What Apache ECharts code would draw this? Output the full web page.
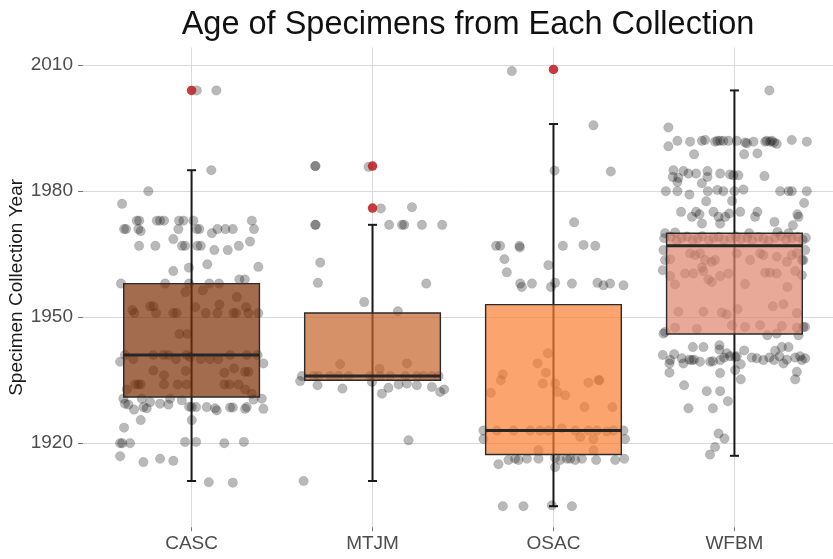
<!DOCTYPE html>
<html><head><meta charset="utf-8">
<script src="https://cdn.jsdelivr.net/npm/echarts@6/dist/echarts.min.js"></script>
<style>html,body{margin:0;padding:0;background:#fff}#chart{width:833px;height:559px}</style>
</head><body><div id="chart"></div>
<script>
// ---------------- data ----------------
const categories = ['CASC', 'MTJM', 'OSAC', 'WFBM'];
const yTicks = [1920, 1950, 1980, 2010];
// [lower whisker, Q1, median, Q3, upper whisker]
const boxCASC = [1911, 1931, 1941, 1958, 1985];
const boxMTJM = [1911, 1935, 1936, 1951, 1972];
const boxOSAC = [1905, 1917.3, 1923, 1953, 1996];
const boxWFBM = [1917, 1946, 1967, 1970, 2004];
const outCASC = [2004];
const outMTJM = [1986, 1976];
const outOSAC = [2009];
const outWFBM = [];
// jittered observations: [horizontal jitter (category units), year]
const cascPoints = [
[0.029,2004],[0.137,2004],[0.109,1985],[-0.239,1980],[-0.384,1977],
[-0.303,1973],[-0.289,1973],[-0.192,1973],[-0.174,1973],[-0.152,1973],[-0.069,1973],[-0.045,1973],[0.010,1973],[0.333,1973],
[-0.373,1971],[-0.362,1971],[-0.294,1971],[-0.281,1970.5],[-0.073,1971],[0.029,1971],[0.043,1971],[0.112,1970],[0.143,1971],[0.187,1971],[0.228,1971],[0.345,1971],
[-0.101,1968.6],[0.323,1968],
[-0.290,1967],[-0.200,1967],[-0.053,1967],[-0.036,1967],[0.032,1967],[0.051,1967],[0.126,1966],[0.200,1966],[0.261,1967],
[-0.015,1961.8],[0.087,1962.6],[-0.101,1961],[0.369,1962],
[-0.390,1958],[-0.146,1958],[-0.014,1958],[0.098,1958],[0.152,1958],[0.264,1959],[0.294,1959],
[-0.034,1956],[0.062,1956.4],[0.250,1954.8],[0.154,1953],[0.301,1952.4],[-0.327,1951.7],[-0.316,1951],[-0.229,1952.6],[-0.211,1952.6],[-0.196,1951],[-0.101,1951],[-0.082,1951],[0.021,1952.4],[0.078,1951],[0.143,1951],[0.231,1951],[0.246,1951],[0.314,1951],[0.369,1951],
[-0.067,1946],[-0.023,1946],
[-0.368,1941],[-0.322,1940],[-0.211,1941],[-0.156,1941],[-0.128,1941],[-0.086,1940],[-0.027,1941],[-0.008,1940.5],[0.051,1940],[0.102,1940],[0.148,1940],[0.213,1941],[0.305,1941],[0.365,1941],[-0.395,1939.4],[0.397,1939],
[-0.211,1937.3],[-0.152,1936.2],[-0.032,1937.2],[0.181,1936.8],[0.235,1937.8],[0.296,1937],[0.314,1937],
[-0.358,1932.8],[-0.312,1934],[-0.294,1934],[-0.281,1934],[-0.152,1934],[-0.076,1934],[-0.027,1934],[0.181,1934],[0.209,1934],[0.259,1934],[0.296,1932.8],[0.333,1931.8],
[-0.377,1930.6],[-0.368,1929.4],[-0.349,1929.2],[-0.318,1928],[-0.275,1930.6],[-0.266,1928.6],[-0.248,1928.3],[-0.229,1929.8],[-0.174,1929.4],[-0.128,1929.2],[-0.119,1930.6],[-0.054,1930.2],[-0.014,1928.7],[0.001,1928.6],[0.025,1928.6],[0.084,1928.6],[0.130,1928.3],[0.139,1927.8],[0.213,1928.5],[0.228,1928.5],[0.296,1928.2],[0.305,1928.6],[0.342,1930.4],[0.388,1930.6],[0.397,1928.2],
[0.001,1925.5],[-0.281,1925.5],[-0.373,1923.7],
[-0.395,1920],[-0.383,1920],[-0.340,1920],[-0.036,1920.3],[0.025,1920.3],[0.181,1920],[0.289,1920.3],
[-0.395,1916.9],[-0.266,1915.5],[-0.174,1916.3],[-0.101,1915.8],
[0.095,1910.7],[0.228,1910.6]
];
const mtjmPoints = [
[-0.317,1986],[-0.315,1986],[-0.022,1985.8],
[0.046,1975.9],[0.218,1976.2],
[-0.317,1972],[-0.314,1972],[0.092,1972],[0.163,1972],[0.175,1972],[0.273,1972],[0.385,1972],
[-0.289,1963],[-0.302,1958.2],[0.297,1958],[-0.046,1953.6],[0.140,1951.4],
[-0.179,1938.8],[0.039,1937.7],[0.190,1939],
[-0.390,1936],[-0.326,1936],[-0.299,1936],[-0.234,1936],[-0.188,1936],[-0.133,1936],[-0.013,1936],[0.043,1936],[0.098,1936],[0.181,1936],[0.245,1936],[0.282,1936],[0.328,1936],[0.365,1936],
[-0.400,1934.8],[-0.304,1933.8],[-0.166,1933],[-0.003,1934.6],[0.088,1933.2],[0.144,1934],[0.190,1934.2],[0.245,1933.8],[0.328,1933.4],[0.374,1932.2],[0.396,1932.8],[0.052,1931.8],
[0.199,1920.7],[-0.381,1911]
];
const osacPoints = [
[-0.230,2008.6],[0.221,1995.7],[0.006,1984.9],[0.317,1984.7],[0.114,1972.6],
[-0.317,1967],[-0.295,1967],[-0.188,1967],[-0.186,1966.6],[0.052,1967],[0.166,1967.2],[0.231,1967],
[-0.271,1963.8],[-0.258,1960.7],[-0.028,1962.4],
[-0.184,1958],[-0.175,1957.2],[-0.119,1958],[-0.014,1957.2],[0.009,1958.2],[0.102,1958],[0.243,1958.2],[0.276,1957.6],[0.313,1958],[0.387,1957.6],
[-0.031,1941.4],[-0.088,1939],[-0.042,1936.8],[-0.280,1936.4],[-0.291,1935],[-0.346,1932],[-0.059,1934.2],[0.009,1934.2],[0.022,1932.2],[0.065,1931.4],[0.193,1934.4],[0.249,1935],[0.254,1935],[0.171,1928.6],[0.326,1928.6],
[-0.387,1923],[-0.387,1921],[-0.313,1923],[-0.221,1923],[-0.129,1923],[-0.074,1923],[-0.028,1923],[0.046,1923.5],[0.120,1923],[0.148,1921.5],[0.193,1923],[0.221,1921],[0.240,1923],[0.295,1922.8],[0.332,1923],[0.387,1923],[0.396,1921],
[-0.083,1918.3],[0.221,1918.3],
[-0.304,1915],[-0.249,1916],[-0.212,1916.3],[-0.193,1916],[-0.147,1916.3],[-0.083,1916.3],[0.009,1916.5],[0.009,1914.3],[0.037,1916],[0.074,1916.3],[0.092,1916.3],[0.120,1916],[0.157,1916.3],[0.236,1916],[0.341,1916],[0.391,1916.3],
[-0.280,1905],[-0.166,1905],[-0.009,1905.2],[0.102,1905]
];
const wfbmPoints = [
[0.193,2004],[-0.365,1995.2],
[-0.315,1992],[-0.245,1991.8],[-0.180,1992],[-0.162,1992.2],[-0.107,1991.8],[-0.094,1992],[-0.079,1992],[-0.061,1992],[-0.033,1992],[0.013,1992],[0.059,1991.6],[0.069,1991.4],[0.105,1991.8],[0.170,1991.8],[0.179,1992],[0.197,1991.8],[0.207,1992],[0.219,1991.6],[0.234,1991.3],[0.317,1992.2],[0.400,1991.8],
[-0.365,1990.7],[-0.223,1988.8],[0.054,1988.8],[0.127,1989],
[-0.337,1985],[-0.341,1983.4],[-0.310,1983.2],[-0.282,1984.8],[-0.254,1984.2],[-0.212,1984.2],[-0.149,1984.8],[-0.149,1983.4],[-0.079,1984.2],[-0.024,1984],[-0.006,1983.8],[0.022,1983.8],[0.166,1983.6],[-0.315,1982.2],[-0.180,1981.9],
[-0.379,1980],[-0.315,1980],[-0.249,1979.2],[-0.147,1980],[-0.094,1980.3],[-0.061,1980],[0.000,1980],[0.050,1980.4],[0.253,1980],[0.299,1980],[0.317,1980],[0.400,1980],
[-0.156,1977.6],[-0.013,1977.7],[0.385,1977.2],
[-0.295,1975.1],[-0.235,1973.9],[-0.212,1975.1],[-0.193,1974.5],[-0.116,1975.1],[-0.088,1973.9],[-0.051,1973.9],[-0.029,1974.7],[0.032,1975.1],[0.114,1973.9],[0.127,1975.1],[0.348,1974.5],[0.354,1973.9],
[-0.079,1972.3],[-0.179,1972.3],[0.221,1972.7],[0.323,1971.9],
[-0.383,1970],[-0.328,1970.2],[0.081,1970],[0.238,1970.3],[0.299,1970],
[-0.388,1968.8],[-0.352,1969.1],[-0.318,1968.2],[-0.291,1968.9],[-0.262,1969.2],[-0.231,1968.4],[-0.204,1968.7],[-0.178,1969.3],[-0.141,1968.3],[-0.115,1968.9],[-0.087,1969.1],[-0.058,1968.4],[-0.021,1968.8],[0.008,1969.2],[0.036,1968.6],[0.071,1968.9],[0.098,1968.3],[0.133,1969.1],[0.161,1968.7],[0.189,1968.2],[0.224,1968.9],[0.257,1969.3],[0.286,1968.5],[0.318,1968.8],[0.349,1969.1],[0.377,1968.4],[0.395,1968.9],
[-0.392,1966],[-0.383,1963.6],[-0.396,1961.2],[0.391,1966],[0.381,1963.6],
[-0.245,1965.2],[-0.217,1964.8],[-0.190,1965.2],[-0.162,1963.6],[-0.125,1963.2],[-0.107,1963.6],[0.013,1965.2],[0.087,1963.6],[0.142,1965.2],[0.160,1964.8],[0.234,1964.4],[0.290,1963.2],[0.317,1964.8],[0.345,1965.2],[0.373,1963.6],[-0.355,1963.8],
[-0.273,1960.4],[-0.227,1960.4],[-0.180,1961.8],[-0.171,1961],[-0.144,1959],[-0.125,1958.4],[-0.079,1959.8],[-0.033,1960.4],[-0.355,1959.8],[-0.328,1957.8],[0.059,1957.9],[0.170,1960.6],[0.197,1960.6],[0.234,1960.4],[0.336,1961],[0.293,1957.2],[0.373,1960],
[-0.310,1951.3],[-0.171,1951.3],[-0.070,1951.1],[-0.042,1950.7],[0.017,1951.9],[0.212,1952.6],[0.271,1953.1],[0.345,1951],[-0.014,1948.1],[0.059,1947.7],[0.142,1948.1],[0.262,1947.9],[-0.208,1947.2],[-0.328,1947.5],[0.345,1947.5],[0.381,1947.7],
[-0.392,1946.1],[-0.383,1946.5],[0.182,1945.7],[0.234,1946.1],[0.354,1945.7],[0.391,1947.7],
[-0.230,1942.9],[-0.171,1942.9],[-0.083,1943.3],[-0.083,1942.3],[0.054,1942.1],[0.225,1942],[0.262,1942.9],[0.299,1942.9],
[-0.396,1941],[-0.355,1939.8],[-0.333,1941.2],[-0.291,1940.2],[-0.282,1939],[-0.249,1939.9],[-0.235,1939.8],[-0.223,1939.9],[-0.190,1939.4],[-0.134,1939.4],[-0.119,1939.5],[-0.079,1939.8],[-0.057,1940.4],[-0.042,1941.4],[-0.024,1940.7],[0.004,1940.5],[0.013,1940.7],[0.035,1938.8],[0.096,1940.4],[0.124,1940.2],[0.160,1939.8],[0.193,1940.4],[0.219,1939.8],[0.249,1940.7],[0.271,1939],[0.290,1939.9],[0.336,1940.4],[0.363,1940.7],[0.373,1939.8],[0.391,1940.2],[-0.359,1939],
[-0.359,1936.8],[-0.079,1936.7],[0.004,1937.4],[0.035,1935.2],[0.345,1937],[0.336,1935.2],
[-0.278,1933.8],[-0.153,1932.4],[-0.079,1932.4],[-0.036,1930],[-0.254,1928.3],[-0.119,1928.3],
[-0.088,1922.3],[-0.055,1921.1],[-0.107,1919.1],[-0.135,1917.3]
];

// ---------------- build ----------------
const boxes = [boxCASC, boxMTJM, boxOSAC, boxWFBM];
const outs = [outCASC, outMTJM, outOSAC, outWFBM];
const pts = [cascPoints, mtjmPoints, osacPoints, wfbmPoints];

const boxData = boxes.map((b, i) => [i + 1].concat(b));
const pointData = [];
pts.forEach((arr, i) => arr.forEach(p => pointData.push([i + 1 + p[0], p[1]])));
const outData = [];
outs.forEach((arr, i) => arr.forEach(v => outData.push([i + 1, v])));

const fills = ['rgba(126,45,4,0.7)', 'rgba(196,98,42,0.7)', 'rgba(250,126,48,0.7)', 'rgba(222,132,110,0.7)'];
const FONT = '"Liberation Sans", Arial, Helvetica, sans-serif';
const catPos = categories.map((c, i) => i + 1);

const chart = echarts.init(document.getElementById('chart'), null, { renderer: 'canvas' });
chart.setOption({
  animation: false,
  backgroundColor: '#ffffff',
  title: {
    text: 'Age of Specimens from Each Collection',
    left: 463, top: 4, textAlign: 'center',
    textStyle: { fontFamily: FONT, fontSize: 32.5, fontWeight: 'normal', color: '#111' }
  },
  grid: { left: 83, right: -10, top: 47.6, bottom: 31.8, containLabel: false, outerBoundsMode: 'none' },
  xAxis: {
    type: 'value', min: 0.4, max: 4.6,
    axisLine: { show: false },
    axisTick: { show: true, customValues: catPos, length: 4, lineStyle: { color: '#777' } },
    axisLabel: {
      customValues: catPos, margin: 7,
      formatter: v => categories[Math.round(v) - 1] || '',
      fontFamily: FONT, fontSize: 19, color: '#4d4d4d'
    },
    splitLine: { show: true, lineStyle: { color: '#d9d9d9', width: 1 } }
  },
  yAxis: {
    type: 'value', min: 1900, max: 2014.2,
    name: 'Specimen Collection Year', nameLocation: 'middle', nameGap: 57, nameMoveOverlap: false,
    nameTextStyle: { fontFamily: FONT, fontSize: 19, color: '#1a1a1a' },
    axisLine: { show: false },
    axisTick: { show: true, customValues: yTicks, length: 5, lineStyle: { color: '#777' } },
    axisLabel: { customValues: yTicks, margin: 10, formatter: v => String(Math.round(v)), fontFamily: FONT, fontSize: 19, color: '#4d4d4d' },
    splitLine: { show: true, lineStyle: { color: '#d9d9d9', width: 1 } }
  },
  series: [
    {
      type: 'custom', name: 'whisker', z: 2,
      data: boxData, encode: { x: 0, y: [1, 2, 3, 4, 5] },
      renderItem: (params, api) => {
        const x = api.value(0);
        const lo = api.coord([x, api.value(1)]);
        const hi = api.coord([x, api.value(5)]);
        const h = api.size([0.05, 0])[0] / 2;
        const st = { stroke: '#1a1a1a', lineWidth: 2 };
        return { type: 'group', children: [
          { type: 'line', shape: { x1: lo[0], y1: lo[1], x2: hi[0], y2: hi[1] }, style: st },
          { type: 'line', shape: { x1: lo[0] - h, y1: lo[1], x2: lo[0] + h, y2: lo[1] }, style: st },
          { type: 'line', shape: { x1: hi[0] - h, y1: hi[1], x2: hi[0] + h, y2: hi[1] }, style: st }
        ] };
      }
    },
    {
      type: 'scatter', name: 'points', z: 3,
      data: pointData, symbolSize: 9.5,
      itemStyle: { color: 'rgba(0,0,0,0.34)', borderColor: 'rgba(0,0,0,0.2)', borderWidth: 0.6 }
    },
    {
      type: 'custom', name: 'box', z: 4,
      data: boxData, encode: { x: 0, y: [1, 2, 3, 4, 5] },
      renderItem: (params, api) => {
        const x = api.value(0);
        const q1 = api.coord([x, api.value(2)]);
        const md = api.coord([x, api.value(3)]);
        const q3 = api.coord([x, api.value(4)]);
        const hw = api.size([0.75, 0])[0] / 2;
        return { type: 'group', children: [
          { type: 'rect', shape: { x: q1[0] - hw, y: q3[1], width: hw * 2, height: q1[1] - q3[1] },
            style: { fill: fills[params.dataIndex], stroke: '#2b2b2b', lineWidth: 1.4 } },
          { type: 'line', shape: { x1: md[0] - hw, y1: md[1], x2: md[0] + hw, y2: md[1] },
            style: { stroke: '#262626', lineWidth: 3 } }
        ] };
      }
    },
    {
      type: 'scatter', name: 'outliers', z: 5,
      data: outData, symbolSize: 9.5,
      itemStyle: { color: '#c0262c', opacity: 0.9 }
    }
  ]
});
</script>
</body></html>
